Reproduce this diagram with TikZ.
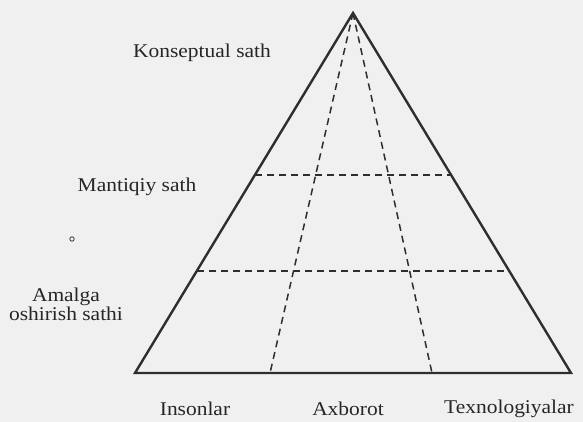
\documentclass[tikz,border=0pt]{standalone}
\usepackage{fontspec}
\setmainfont{Liberation Serif}
\begin{document}
\begin{tikzpicture}[x=1pt,y=-1pt,
  edge/.style={draw=black!82, line width=2.4pt, line join=miter},
  divider/.style={draw=black!82, line width=1.5pt, dash pattern=on 7pt off 5pt},
  lbl/.style={text=black!85, font=\fontsize{19.5}{21}\selectfont, inner sep=0pt, align=center}]
\fill[black!6] (0,0) rectangle (583,422);
\useasboundingbox (0,0) rectangle (583,422);
\coordinate (apex) at (353,13);
\coordinate (bl) at (135,373);
\coordinate (br) at (571,373);
\coordinate (b1) at (270,373);
\coordinate (b2) at (432,373);
\coordinate (l1) at (255,175);
\coordinate (r1) at (450,175);
\coordinate (l2) at (197,271);
\coordinate (r2) at (507,271);
\draw[divider] (apex) -- (b1);
\draw[divider] (apex) -- (b2);
\draw[divider] (l1) -- (r1);
\draw[divider] (l2) -- (r2);
\draw[edge] (bl) -- (apex) -- (br) -- cycle;
\node[lbl] (k) at (202,53) {\scalebox{1.1}[1]{Konseptual sath}};
\node[lbl] (m) at (137,187) {\scalebox{1.1}[1]{Mantiqiy sath}};
\node[lbl] (a) at (66,304) {\scalebox{1.1}[1]{Amalga}\\[-2pt]\scalebox{1.1}[1]{oshirish sathi}};
\draw[black!75, line width=0.9pt] (72,239) circle (2.2pt);
\node[lbl] (i) at (195,409) {\scalebox{1.1}[1]{Insonlar}};
\node[lbl] (x) at (348,409) {\scalebox{1.1}[1]{Axborot}};
\node[lbl] (t) at (509,409) {\scalebox{1.1}[1]{Texnologiyalar}};
\end{tikzpicture}
\end{document}
